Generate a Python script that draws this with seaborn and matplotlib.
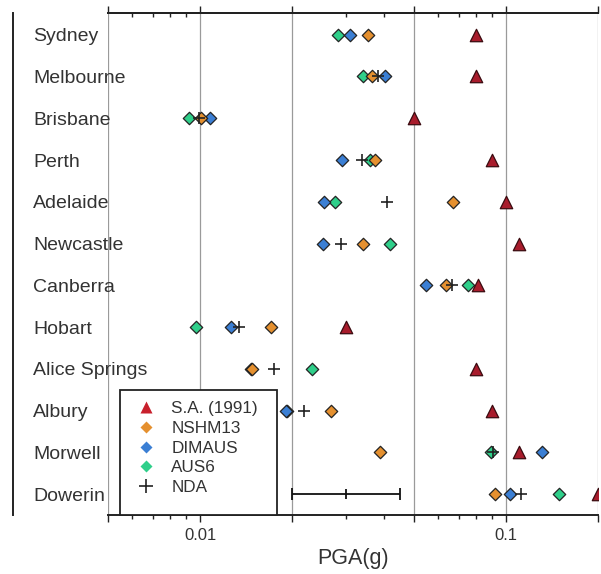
import numpy as np
import matplotlib
matplotlib.use("Agg")
import matplotlib.pyplot as plt
from matplotlib.lines import Line2D
from matplotlib.patches import Rectangle
from matplotlib.ticker import FixedLocator, FixedFormatter, LogLocator, NullFormatter
import seaborn as sns

nan = np.nan
cities = ["Sydney", "Melbourne", "Brisbane", "Perth", "Adelaide", "Newcastle",
          "Canberra", "Hobart", "Alice Springs", "Albury", "Morwell", "Dowerin"]
sa1991 = [0.080, 0.080, 0.050, 0.090, 0.100, 0.110, 0.081, 0.030, 0.080, 0.090, 0.110, 0.200]
nshm13 = [0.0353, 0.0365, 0.0101, 0.0374, 0.0671, 0.0341, 0.0638, 0.0171, 0.0148, 0.0267, 0.0388, 0.0922]
dimaus = [0.0310, 0.0403, 0.0108, 0.0291, 0.0254, 0.0253, 0.0546, 0.0126, 0.0147, 0.0191, 0.131, 0.103]
aus6 = [0.0283, 0.0341, 0.00917, 0.0360, 0.0276, 0.0419, 0.0754, 0.0097, 0.0233, 0.0193, 0.0893, 0.1486]
nda = [nan, 0.0383, 0.0099, 0.0338, 0.0410, 0.0288, 0.0668, 0.0134, 0.0175, 0.0219, 0.091, 0.112]
legend_labels = ["S.A. (1991)", "NSHM13", "DIMAUS", "AUS6", "NDA"]
xtick_vals = [0.005, 0.01, 0.02, 0.05, 0.1, 0.2]
xtick_labels = ["", "0.01", "", "", "0.1", ""]
# uncertainty scale bar (centre, lower, upper)
bar_center, bar_low, bar_high = 0.03, 0.02, 0.045

sns.set_theme(style="white")
plt.rcParams["font.family"] = ["Liberation Sans", "DejaVu Sans"]

c_red = "#a81c2c"
c_orange = "#e5902f"
c_blue = "#3b7fd4"
c_green = "#2fcf8a"
edge = "#222222"

fig = plt.figure(figsize=(6.01, 5.74), dpi=100)
ax = fig.add_axes([108 / 601, 59 / 574, 490 / 601, 502 / 574])
ax.set_facecolor("white")

kw = dict(ax=ax, legend=False, zorder=3)
sns.scatterplot(x=aus6, y=cities, marker="D", s=40, color=c_green, edgecolor=edge, linewidth=0.9, **kw)
sns.scatterplot(x=dimaus, y=cities, marker="D", s=40, color=c_blue, edgecolor=edge, linewidth=0.9, **kw)
sns.scatterplot(x=nshm13, y=cities, marker="D", s=40, color=c_orange, edgecolor=edge, linewidth=0.9, **kw)
sns.scatterplot(x=sa1991, y=cities, marker="^", s=80, color=c_red, edgecolor="#3a0b10", linewidth=0.9, **kw)
sns.scatterplot(x=nda, y=cities, marker="+", s=80, color="#222222", linewidth=1.2, **kw)

ax.errorbar(bar_center, ["Dowerin"], xerr=[[bar_center - bar_low], [bar_high - bar_center]],
            fmt="|", ms=7, mew=1.3, color="#111111", ecolor="#111111", elinewidth=1.3,
            capsize=4.5, capthick=1.3, zorder=3)

ax.set_xscale("log")
ax.set_xlim(0.005, 0.2)
ax.set_ylim(11.5, -0.52)
ax.xaxis.set_major_locator(FixedLocator(xtick_vals))
ax.xaxis.set_major_formatter(FixedFormatter(xtick_labels))
ax.xaxis.set_minor_locator(LogLocator(base=10, subs=np.arange(2, 10) * 1.0))
ax.xaxis.set_minor_formatter(NullFormatter())
ax.grid(axis="x", which="major", color="#9a9a9a", lw=0.9)
ax.grid(axis="y", visible=False)

ax.tick_params(axis="x", which="both", bottom=True, top=False, direction="out", color="#222222", width=1)
ax.tick_params(axis="x", which="major", length=5, labelsize=12, labelcolor="#333333", pad=4)
ax.tick_params(axis="x", which="minor", length=3)
ax.tick_params(axis="y", length=0, labelsize=14, labelcolor="#333333", pad=-14.4)

# top axis: major ticks outward, minor ticks inward
sec = ax.secondary_xaxis("top")
sec.xaxis.set_major_locator(FixedLocator(xtick_vals))
sec.xaxis.set_major_formatter(NullFormatter())
sec.xaxis.set_minor_locator(LogLocator(base=10, subs=np.arange(2, 10) * 1.0))
sec.xaxis.set_minor_formatter(NullFormatter())
sec.tick_params(which="major", direction="out", length=5, width=1, color="#222222")
sec.tick_params(which="minor", direction="in", length=3, width=1, color="#222222")
sec.spines["top"].set_color("#222222")
sec.spines["top"].set_linewidth(1.4)

for s in ["top", "bottom", "left"]:
    ax.spines[s].set_visible(True)
    ax.spines[s].set_color("#222222")
    ax.spines[s].set_linewidth(1.4)
ax.spines["right"].set_visible(False)
ax.spines["left"].set_position(("outward", 95 * 0.72))

ax.set_xlabel("PGA(g)", fontsize=15.5, color="#333333", labelpad=4)
ax.set_ylabel("")

# legend
ax.add_patch(Rectangle((12 / 490, 0), 157 / 490, 125 / 502, transform=ax.transAxes,
                       facecolor="white", edgecolor="#222222", lw=1.3, zorder=4, clip_on=False))
handles = [
    Line2D([], [], ls="none", marker="^", ms=8, color="#c8202c", mec="none"),
    Line2D([], [], ls="none", marker="D", ms=6, color=c_orange, mec="none"),
    Line2D([], [], ls="none", marker="D", ms=6, color=c_blue, mec="none"),
    Line2D([], [], ls="none", marker="D", ms=6, color=c_green, mec="none"),
    Line2D([], [], ls="none", marker="+", ms=10, color="#222222", mew=1.2),
]
leg = ax.legend(handles, legend_labels, loc="upper left", bbox_to_anchor=(25 / 490, 114 / 502),
                frameon=False, prop={"size": 12.3}, labelspacing=0.28, handlelength=1.5,
                handletextpad=0.75, borderpad=0, borderaxespad=0)
for t in leg.get_texts():
    t.set_color("#333333")
leg.set_zorder(5)

fig.canvas.draw()
for lbl in ax.get_yticklabels():
    lbl.set_horizontalalignment("left")

fig.savefig("out.png", dpi=100, facecolor="white")
